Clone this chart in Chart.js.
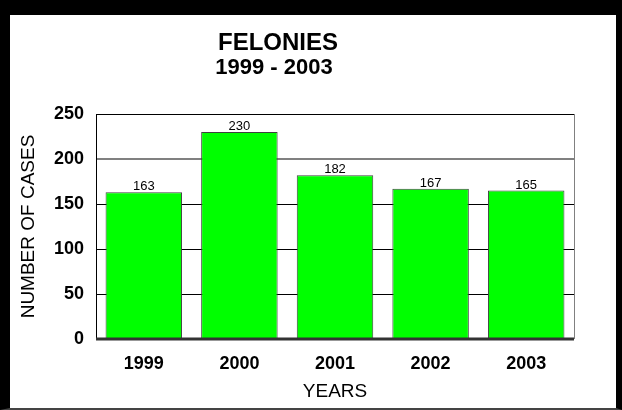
<!DOCTYPE html>
<html>
<head>
<meta charset="utf-8">
<script src="https://cdn.jsdelivr.net/npm/chart.js@4"></script>
<style>
    body { margin: 0; background: #fff; }
    #frame {
        width: 622px; height: 410px; box-sizing: border-box;
        border-style: solid; border-color: #000 #000 #444 #000;
        border-width: 15px 6px 2px 10px; background: #fff;
    }
    #chart { display: block; }
</style>
</head>
<body>
<div id="frame"><canvas id="chart" width="606" height="393"></canvas></div>
<script>
const years = ['1999', '2000', '2001', '2002', '2003'];
const felonies = [163, 230, 182, 167, 165];
const yTicks = [0, 50, 100, 150, 200, 250];
const titleLines = ['FELONIES', '1999 - 2003'];

const FONT = '"Liberation Sans", Arial, sans-serif';

/**
 * Title, value labels, baseline and plot frame
 */
const decorPlugin = {
    id: 'decor',
    afterDatasetsDraw(chart) {
        const ctx = chart.ctx;
        const area = chart.chartArea;
        const y = chart.scales.y;
        ctx.save();

        // plot frame
        ctx.lineWidth = 1;
        ctx.strokeStyle = '#000';
        ctx.beginPath();
        ctx.moveTo(area.left + 0.5, area.bottom);
        ctx.lineTo(area.left + 0.5, area.top + 0.5);
        ctx.lineTo(area.right, area.top + 0.5);
        ctx.stroke();
        ctx.strokeStyle = '#808080';
        ctx.beginPath();
        ctx.moveTo(area.right + 0.5, area.top);
        ctx.lineTo(area.right + 0.5, area.bottom);
        ctx.stroke();

        // thick zero line
        const y0 = y.getPixelForValue(0);
        ctx.strokeStyle = '#333';
        ctx.lineWidth = 3;
        ctx.beginPath();
        ctx.moveTo(area.left, y0);
        ctx.lineTo(area.right, y0);
        ctx.stroke();

        // value labels
        const meta = chart.getDatasetMeta(0);
        ctx.fillStyle = '#000';
        ctx.font = '13px ' + FONT;
        ctx.textAlign = 'center';
        ctx.textBaseline = 'bottom';
        meta.data.forEach((bar, i) => {
            ctx.fillText(String(felonies[i]), bar.x, bar.y + 1);
        });

        // title
        ctx.textBaseline = 'middle';
        ctx.font = 'bold 24px ' + FONT;
        ctx.fillText(titleLines[0], 268, 28);
        ctx.font = 'bold 22px ' + FONT;
        ctx.fillText(titleLines[1], 264, 53);

        ctx.restore();
    }
};

new Chart(document.getElementById('chart'), {
    type: 'bar',
    data: {
        labels: years,
        datasets: [{
            data: felonies,
            backgroundColor: '#00FF00',
            borderColor: '#404040',
            borderWidth: 1,
            barPercentage: 0.8,
            categoryPercentage: 1.0
        }]
    },
    options: {
        responsive: false,
        animation: false,
        layout: { padding: { top: 99, right: 42, bottom: 0, left: 0 } },
        plugins: {
            legend: { display: false },
            tooltip: { enabled: false },
            title: { display: false }
        },
        scales: {
            x: {
                afterFit(scale) { scale.height = 69; },
                grid: { display: false, drawTicks: false },
                border: { display: false },
                ticks: {
                    color: '#000',
                    padding: 14,
                    font: { family: FONT, size: 18, weight: 'bold' }
                },
                title: {
                    display: true,
                    text: 'YEARS',
                    color: '#000',
                    padding: { top: 0, bottom: 5 },
                    font: { family: FONT, size: 19 }
                }
            },
            y: {
                min: 0,
                max: 250,
                afterFit(scale) { scale.width = 86; },
                afterBuildTicks(scale) {
                    scale.ticks = yTicks.map(v => ({ value: v }));
                },
                grid: {
                    color: c => (c.tick && c.tick.value === 200 ? '#808080' : '#000'),
                    lineWidth: c => (c.tick && c.tick.value === 200 ? 2 : 1),
                    drawTicks: false
                },
                border: { display: true, color: '#000' },
                ticks: {
                    color: '#000',
                    padding: 12,
                    font: { family: FONT, size: 18, weight: 'bold' }
                },
                title: {
                    display: true,
                    text: 'NUMBER OF CASES',
                    color: '#000',
                    padding: { top: 7, bottom: 0 },
                    font: { family: FONT, size: 19 }
                }
            }
        }
    },
    plugins: [decorPlugin]
});
</script>
</body>
</html>
